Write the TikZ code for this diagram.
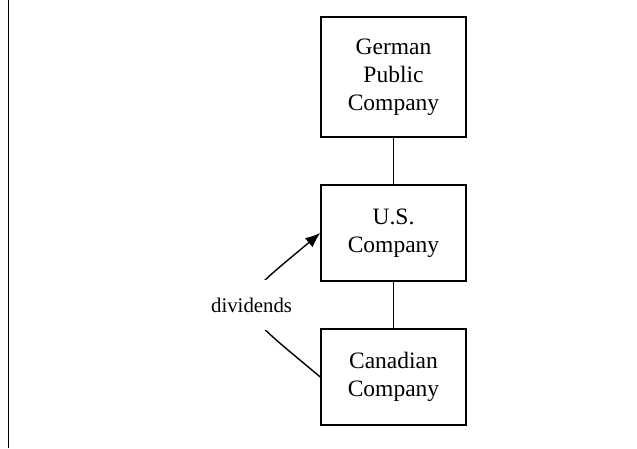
\documentclass[tikz,border=0pt]{standalone}
\usepackage{fontspec}
\setmainfont{Liberation Serif}
\usetikzlibrary{arrows.meta}
\begin{document}
\begin{tikzpicture}[x=1pt,y=1pt,line width=1.4pt,
  firm/.style={draw,minimum width=145pt,inner sep=0pt,align=center,font=\fontsize{23.5}{28}\selectfont}]
\useasboundingbox (0,0) rectangle (637,448);
\draw (8.5,0) -- (8.5,448);

\node[firm,minimum height=120pt] (german) at (393.5,371) {German\\Public\\Company};
\node[firm,minimum height=96pt] (us) at (393.5,215) {U.S.\\Company};
\node[firm,minimum height=96pt] (canadian) at (393.5,71) {Canadian\\Company};

\draw (german) -- (us);
\draw (us) -- (canadian);
\draw[-{Latex[length=15pt,width=12pt]}] (canadian.west) to[out=140,in=220,looseness=2.13]
  node[fill=white,inner xsep=1pt,minimum height=50pt,font=\fontsize{20.8}{24}\selectfont] (div) {dividends} (us.west);
\end{tikzpicture}
\end{document}
